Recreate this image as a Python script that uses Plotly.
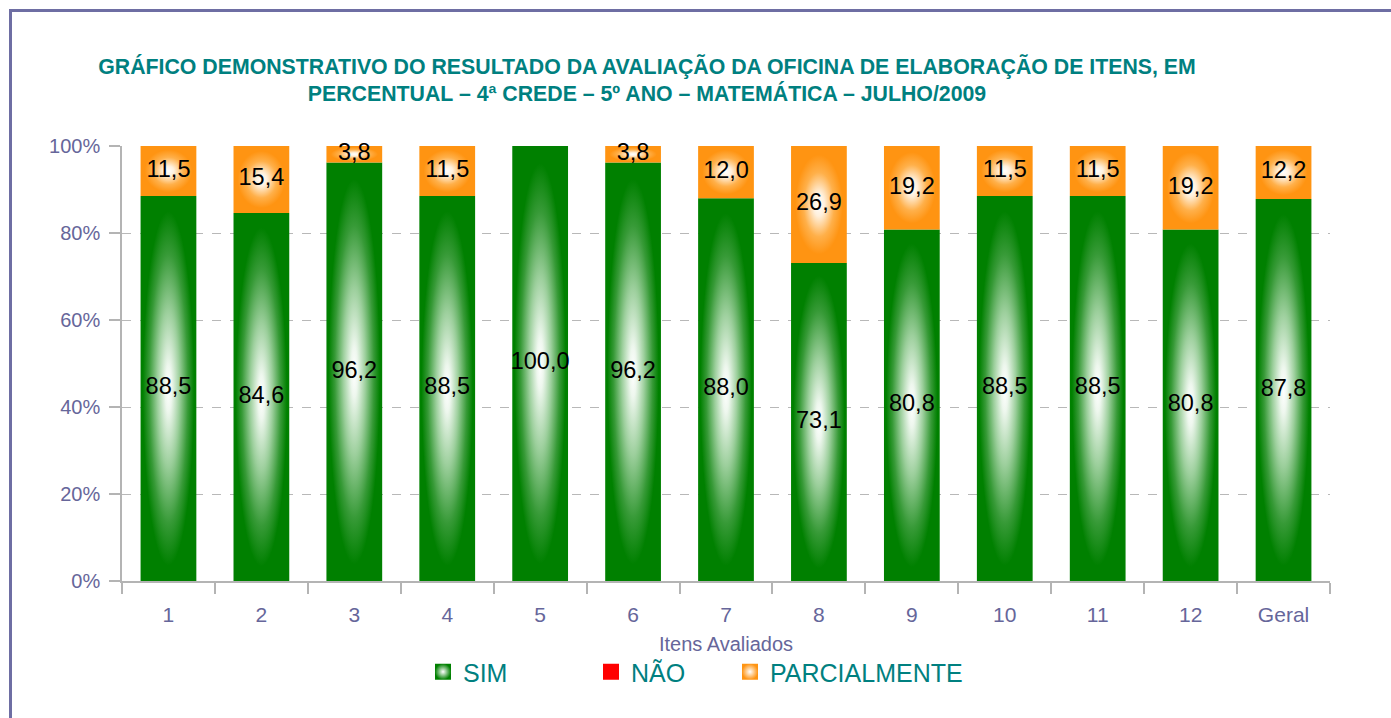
import plotly.graph_objects as go

# ---------------- data ----------------
categorias = ["1", "2", "3", "4", "5", "6", "7", "8", "9", "10", "11", "12", "Geral"]
sim = [88.5, 84.6, 96.2, 88.5, 100.0, 96.2, 88.0, 73.1, 80.8, 88.5, 88.5, 80.8, 87.8]
nao = [0.0, 0.0, 0.0, 0.0, 0.0, 0.0, 0.0, 0.0, 0.0, 0.0, 0.0, 0.0, 0.0]
parcial = [11.5, 15.4, 3.8, 11.5, 0.0, 3.8, 12.0, 26.9, 19.2, 11.5, 11.5, 19.2, 12.2]
y_ticks = [0, 20, 40, 60, 80, 100]
titulo = ("GRÁFICO DEMONSTRATIVO DO RESULTADO DA AVALIAÇÃO DA OFICINA DE ELABORAÇÃO DE ITENS, EM"
          "<br>PERCENTUAL – 4ª CREDE – 5º ANO – MATEMÁTICA – JULHO/2009")
eixo_x_titulo = "Itens Avaliados"

# ---------------- style ----------------
W, H = 1391, 718
ML, MR, MT, MB = 122, 61, 146, 137
FONT = "Liberation Sans, Arial, sans-serif"
AXIS_TXT = "#66669a"
AXIS_LINE = "#b4b4b4"
TEAL = "#008080"
BAR_W = 0.6

series = [
    ("SIM", sim, "#008000",
     [[0, "#ffffff"], [0.12, "#eef7ee"], [0.4, "#9ccf9c"], [0.7, "#379a37"],
      [0.92, "#008000"], [1, "#008000"]], True, 423),
    ("NÃO", nao, "#ff0000",
     [[0, "#ff0000"], [1, "#ff0000"]], False, 591),
    ("PARCIALMENTE", parcial, "#ff9412",
     [[0, "#ffffff"], [0.2, "#fff0dc"], [0.55, "#ffb04a"], [0.85, "#ff9412"], [1, "#ff9412"]],
     True, 730),
]

fig = go.Figure()


def px_x(p):
    return (p - ML) / (W - ML - MR)


def px_y(p):
    return (H - MB - p) / (H - MT - MB)


n = len(categorias)
base = [0.0] * n
label_x, label_y, label_t = [], [], []
legend_layouts = {}
for k, (name, vals, color, cscale, grad, leg_px) in enumerate(series):
    leg_id = "legend" if k == 0 else f"legend{k + 1}"
    for i, v in enumerate(vals):
        if v > 0:
            x0, x1 = i - BAR_W / 2, i + BAR_W / 2
            y0, y1 = base[i], base[i] + v
            tr = dict(
                x=[x0, x1, x1, x0, x0], y=[y0, y0, y1, y1, y0],
                mode="none", fill="toself", fillcolor=color,
                legendgroup=name, showlegend=False, name=name,
                hoverinfo="skip",
            )
            if grad:
                tr["fillgradient"] = dict(type="radial", colorscale=cscale)
            fig.add_trace(go.Scatter(**tr))
            label_x.append(i)
            label_y.append(base[i] + v / 2)
            label_t.append(f"{v:.1f}".replace(".", ","))
        base[i] += v
    mk = dict(symbol="square", size=20, color=color, line=dict(width=0))
    if grad:
        mk["gradient"] = dict(type="radial", color="#ffffff")
    fig.add_trace(go.Scatter(x=[None], y=[None], mode="markers", name=name,
                             legendgroup=name, marker=mk, legend=leg_id))
    legend_layouts[leg_id] = dict(
        orientation="h", x=px_x(leg_px), xanchor="left", y=px_y(649), yanchor="top",
        font=dict(family=FONT, size=25, color=TEAL), bgcolor="rgba(0,0,0,0)",
        itemclick=False, itemdoubleclick=False,
    )

fig.add_trace(go.Scatter(
    x=label_x, y=label_y, text=label_t, mode="text", showlegend=False,
    textposition="middle center", hoverinfo="skip",
    textfont=dict(family=FONT, size=23.5, color="#000000"), cliponaxis=False,
))

frame_col = "#6e6ea3"
fig.add_shape(type="line", xref="paper", yref="paper", x0=px_x(9), x1=px_x(1395),
              y0=px_y(10.5), y1=px_y(10.5), line=dict(color=frame_col, width=3))
fig.add_shape(type="line", xref="paper", yref="paper", x0=px_x(10.5), x1=px_x(10.5),
              y0=px_y(9), y1=px_y(725), line=dict(color=frame_col, width=3))

fig.update_layout(
    width=W, height=H,
    margin=dict(l=ML, r=MR, t=MT, b=MB, autoexpand=False),
    paper_bgcolor="white", plot_bgcolor="white",
    font=dict(family=FONT, color=AXIS_TXT),
    title=dict(text=titulo, x=647 / W, xref="container", xanchor="center",
               y=1 - 73.5 / H, yref="container", yanchor="middle",
               font=dict(family=FONT, size=21.3, color=TEAL, weight="bold")),
    xaxis=dict(
        range=[-0.5, n - 0.5], tickmode="array", tickvals=list(range(n)), ticktext=categorias,
        ticks="", showgrid=False, zeroline=False, showline=True, linecolor=AXIS_LINE, linewidth=1.5,
        tickfont=dict(size=21, color=AXIS_TXT), ticklabelstandoff=14,
        minor=dict(ticks="outside", tickmode="array", tickvals=[i - 0.5 for i in range(n + 1)],
                   ticklen=11, tickcolor=AXIS_LINE, tickwidth=1.5, showgrid=False),
        title=dict(text=eixo_x_titulo, font=dict(size=20, color=AXIS_TXT), standoff=12),
        fixedrange=True, automargin=False,
    ),
    yaxis=dict(
        range=[0, 100], tickmode="array", tickvals=y_ticks, ticktext=[f"{v}%" for v in y_ticks],
        ticks="outside", ticklen=11, tickcolor=AXIS_LINE, tickwidth=1.5,
        showgrid=True, gridcolor="#b8b8b8", griddash="dash", gridwidth=1.2,
        zeroline=False, showline=True, linecolor=AXIS_LINE, linewidth=1.5,
        tickfont=dict(size=20, color=AXIS_TXT), ticklabelstandoff=5,
        fixedrange=True, automargin=False,
    ),
    showlegend=True,
    **legend_layouts,
)

fig.write_html("out.html", config={"displayModeBar": False},
               post_script="document.body.style.margin='0';")
